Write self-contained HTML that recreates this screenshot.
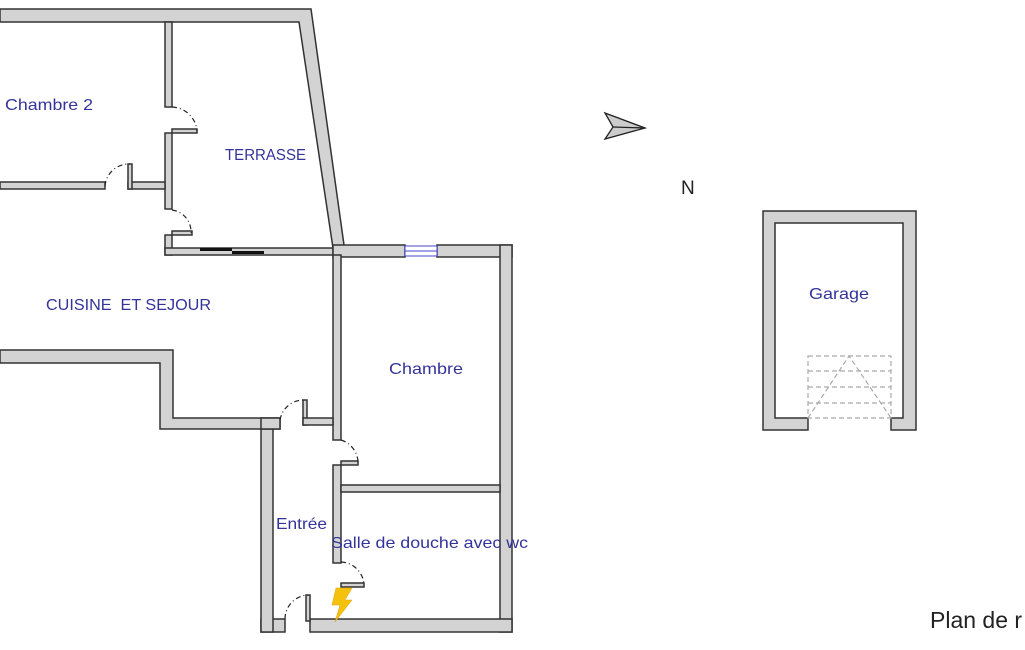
<!DOCTYPE html>
<html><head><meta charset="utf-8"><style>
html,body{margin:0;padding:0;background:#fff;}
svg{display:block}
text{font-family:"Liberation Sans",sans-serif;}
</style></head><body>
<svg width="1025" height="650" viewBox="0 0 1025 650" xmlns="http://www.w3.org/2000/svg">
<g fill="#d3d3d3" stroke="#333" stroke-width="1.5" stroke-linejoin="miter">
<polygon points="0,9 311,9 344,245 333,248 299,22 0,22"/>
<rect x="165" y="22" width="7" height="85"/>
<rect x="165" y="133" width="7" height="76"/>
<rect x="165" y="235" width="7" height="20"/>
<rect x="0" y="182" width="105" height="7"/>
<rect x="128" y="182" width="37" height="7"/>
<rect x="128" y="164" width="4" height="25"/>
<rect x="172" y="129" width="25" height="4"/>
<rect x="172" y="231" width="20" height="4"/>
<rect x="165" y="248" width="168" height="7"/>
<rect x="333" y="245" width="72" height="12"/>
<rect x="437" y="245" width="75" height="12"/>
<rect x="500" y="245" width="12" height="387"/>
<rect x="333" y="255" width="8" height="185"/>
<rect x="333" y="465" width="8" height="98"/>
<rect x="341" y="461" width="17" height="4"/>
<rect x="341" y="583" width="23" height="4"/>
<rect x="341" y="485" width="159" height="7"/>
<rect x="310" y="619" width="202" height="13"/>
<rect x="261" y="619" width="24" height="13"/>
<rect x="306" y="595" width="4" height="26"/>
<rect x="261" y="424" width="12" height="208"/>
<polygon points="0,350 173,350 173,418 280,418 280,429 160,429 160,363 0,363"/>
<rect x="261" y="418" width="19" height="11"/>
<rect x="303" y="400" width="4" height="25"/>
<rect x="303" y="418" width="30" height="7"/>
<polygon points="763,211 916,211 916,430 891,430 891,418 903,418 903,223 775,223 775,418 808,418 808,430 763,430"/>
</g>
<rect x="200" y="248" width="32" height="3" fill="#111"/>
<rect x="232" y="251" width="32" height="3" fill="#111"/>
<rect x="405" y="246" width="32" height="10" fill="#fff" stroke="#44c" stroke-width="1"/>
<line x1="405" y1="251" x2="437" y2="251" stroke="#44c"/>
<g fill="none" stroke="#222" stroke-width="1.2" stroke-dasharray="5,3,1,3">
<path d="M172,107 A26,26 0 0 1 197,131"/>
<path d="M105,186 A24,24 0 0 1 130,164"/>
<path d="M172,210 A22,22 0 0 1 191,233"/>
<path d="M280,420 A24,24 0 0 1 305,400"/>
<path d="M341,440 A24,24 0 0 1 358,463"/>
<path d="M341,562 A24,24 0 0 1 364,585"/>
<path d="M285,619 A24,24 0 0 1 308,595"/>
</g>
<g fill="none" stroke="#aaa" stroke-width="1.2" stroke-dasharray="5,3">
<rect x="808" y="356" width="83" height="62"/>
<line x1="808" y1="371" x2="891" y2="371"/>
<line x1="808" y1="387" x2="891" y2="387"/>
<line x1="808" y1="403" x2="891" y2="403"/>
<polyline points="808,418 849,356 891,418"/>
</g>
<polygon points="336,588 352,588 345,600 352,600 335,622 340,605 332,605" fill="#f4c20d" stroke="#e0a000" stroke-width="0.5"/>
<polygon points="605,113 645,128 605,139 613,127" fill="#ccc" stroke="#222" stroke-width="1.3"/>
<line x1="613" y1="127" x2="645" y2="128" stroke="#222" stroke-width="1.3"/>
<g fill="#33339a" font-size="16">
<text x="5" y="110" textLength="88" lengthAdjust="spacingAndGlyphs">Chambre 2</text>
<text x="225" y="160" textLength="81" lengthAdjust="spacingAndGlyphs">TERRASSE</text>
<text x="46" y="310" textLength="165" lengthAdjust="spacingAndGlyphs">CUISINE&#160;&#160;ET SEJOUR</text>
<text x="389" y="374" textLength="74" lengthAdjust="spacingAndGlyphs">Chambre</text>
<text x="276" y="529" textLength="51" lengthAdjust="spacingAndGlyphs">Entrée</text>
<text x="331" y="548" textLength="197" lengthAdjust="spacingAndGlyphs">Salle de douche avec wc</text>
<text x="809" y="299" textLength="60" lengthAdjust="spacingAndGlyphs">Garage</text>
</g>
<text x="681" y="194" font-size="19" fill="#222">N</text>
<text x="930" y="628" font-size="23" fill="#222">Plan de r</text>
</svg>
</body></html>
